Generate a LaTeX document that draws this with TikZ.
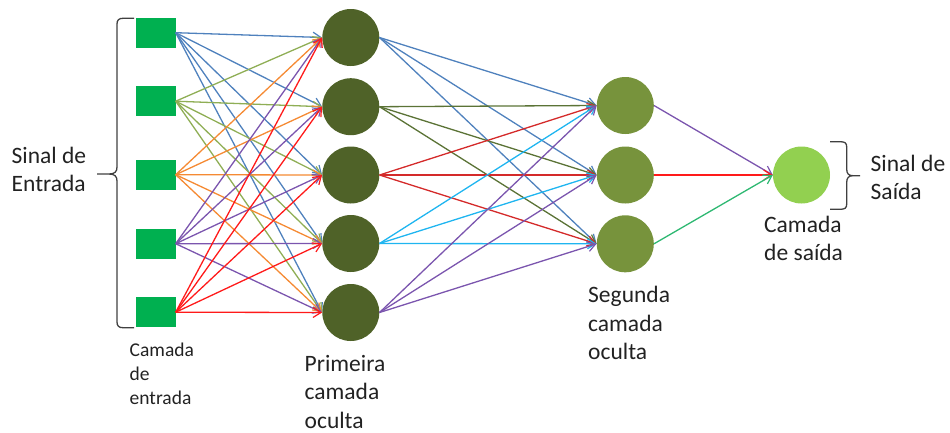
\documentclass[tikz,border=0pt]{standalone}
\usepackage{fontspec}
\setmainfont{Carlito}
\usetikzlibrary{arrows.meta}

\definecolor{inputfill}{HTML}{00B050}
\definecolor{hidAfill}{HTML}{4F6228}
\definecolor{hidBfill}{HTML}{77933C}
\definecolor{outfill}{HTML}{92D050}
\definecolor{cBlue}{HTML}{4F81BD}
\definecolor{cOlive}{HTML}{8FAE55}
\definecolor{cOrange}{HTML}{F58A33}
\definecolor{cPurple}{HTML}{7B55AE}
\definecolor{cRed}{HTML}{FF1A1A}
\definecolor{cDarkRed}{HTML}{D42A2A}
\definecolor{cDarkGreen}{HTML}{5B7336}
\definecolor{cSky}{HTML}{1FB5F0}
\definecolor{cGreen}{HTML}{2EB872}
\definecolor{txt}{HTML}{222222}
\definecolor{bracecol}{HTML}{404040}

\begin{document}
\begin{tikzpicture}[x=1pt,y=-1pt,
  inputsq/.style={rectangle,fill=inputfill,minimum width=40pt,minimum height=30pt,inner sep=0pt},
  neuron/.style={circle,minimum size=57pt,inner sep=0pt},
  link/.style={line width=1.3pt,-{Straight Barb[length=8pt,width=10pt,line width=1.2pt]}},
  label/.style={inner sep=0pt,anchor=base west,align=left,text=txt,
    font=\fontsize{23.5}{28.3}\selectfont},
  smalllabel/.style={label,font=\fontsize{19.5}{23.6}\selectfont},
  bracket/.style={draw=bracecol,line width=1.3pt}]

\useasboundingbox (0,0) rectangle (950,432);

% input layer
\node[inputsq] (in1) at (155.5,32.7) {};
\node[inputsq] (in2) at (155.5,101.2) {};
\node[inputsq] (in3) at (155.5,174.7) {};
\node[inputsq] (in4) at (155.5,243.7) {};
\node[inputsq] (in5) at (155.5,312.2) {};

% first hidden layer
\node[neuron,fill=hidAfill] (h1) at (350.8,37.5) {};
\node[neuron,fill=hidAfill] (h2) at (350.8,106.7) {};
\node[neuron,fill=hidAfill] (h3) at (350.8,175) {};
\node[neuron,fill=hidAfill] (h4) at (350.8,243.5) {};
\node[neuron,fill=hidAfill] (h5) at (350.8,312.5) {};

% second hidden layer
\node[neuron,fill=hidBfill] (s1) at (625.3,105.5) {};
\node[neuron,fill=hidBfill] (s2) at (625.3,175) {};
\node[neuron,fill=hidBfill] (s3) at (625.3,243.8) {};

% output layer
\node[neuron,fill=outfill] (out) at (801.5,175) {};

% input -> first hidden layer
\foreach \i/\c in {1/cBlue,2/cOlive,3/cOrange,4/cPurple,5/cRed}
  \foreach \j in {1,...,5}
    \draw[link,draw=\c] (in\i.east) -- (h\j.west);

% first -> second hidden layer
\foreach \i/\c in {1/cBlue,2/cDarkGreen,3/cDarkRed,4/cSky,5/cPurple}
  \foreach \j in {1,2,3}
    \draw[link,draw=\c] (h\i.east) -- (s\j.west);

% second hidden layer -> output
\draw[link,draw=cPurple] (s1.east) -- (out.west);
\draw[link,draw=cRed] (s2.east) -- (out.west);
\draw[link,draw=cGreen] (s3.east) -- (out.west);

% braces
\draw[bracket] (134,18.3) -- (123,18.3) .. controls (119,18.3) and (117,20) .. (117,24)
  -- (117,167) .. controls (117,171.5) and (115,174) .. (109,174) -- (97,174)
  (109,174) .. controls (115,174) and (117,176.5) .. (117,181)
  -- (117,322) .. controls (117,326) and (119,327.7) .. (123,327.7) -- (134,327.7);
\draw[bracket] (830,141.7) -- (840,141.7) .. controls (845,141.7) and (846.7,143) .. (846.7,147)
  -- (846.7,169) .. controls (846.7,173.5) and (848.5,175.7) .. (853,175.7) -- (860,175.7)
  (853,175.7) .. controls (848.5,175.7) and (846.7,178) .. (846.7,182.5)
  -- (846.7,204) .. controls (846.7,208) and (845,209.3) .. (840,209.3) -- (830,209.3);

% labels (base anchor sits on the last line)
\node[label] (lblin) at (11.5,191.3) {Sinal de\\Entrada};
\node[label] (lblout) at (870.5,199.5) {Sinal de\\Saída};
\node[smalllabel] (lblL0) at (129.5,404) {Camada\\de\\entrada};
\node[label] (lblL1) at (304.5,428) {Primeira\\camada\\oculta};
\node[label] (lblL2) at (588,359.5) {Segunda\\camada\\oculta};
\node[label] (lblL3) at (764,260.5) {Camada\\de saída};
\end{tikzpicture}
\end{document}
